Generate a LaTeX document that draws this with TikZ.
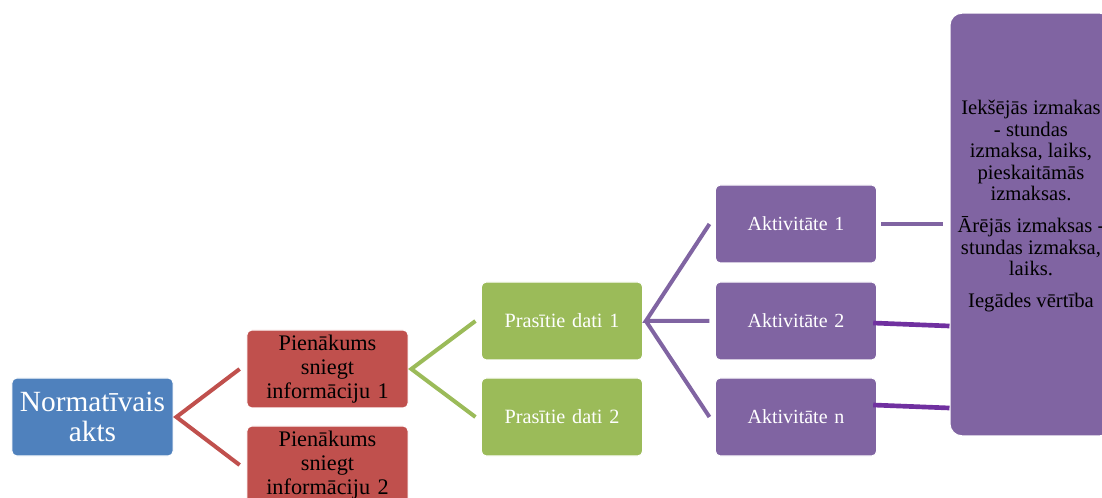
\documentclass[tikz,border=0pt]{standalone}
\usepackage{fontspec}
\setmainfont{Liberation Serif}
\usepackage{tikz}
\usetikzlibrary{calc}

\definecolor{boxblue}{HTML}{4F81BD}
\definecolor{boxred}{HTML}{C0504D}
\definecolor{boxgreen}{HTML}{9BBB59}
\definecolor{boxpurple}{HTML}{8064A2}
\definecolor{linkpurple}{HTML}{7030A0}

\begin{document}
\begin{tikzpicture}[x=0.75pt,y=-0.75pt,
  box/.style={draw=white,line width=0.8pt,rounded corners=3.75pt,
    minimum width=121pt,minimum height=58.5pt,inner sep=2pt,
    align=center,text width=112pt},
  link/.style={line width=3pt}]
  \useasboundingbox (0,0) rectangle (1102,498);
  \clip (0,0) rectangle (1102,498);

  \node[box,fill=boxblue,text=white,font=\fontsize{22}{23}\selectfont]
    (norm) at (92.5,417) {Normatīvais\\akts};
  \node[box,fill=boxred,font=\fontsize{16.7}{18}\selectfont]
    (duty1) at (327.5,369) {Pienākums\\sniegt\\informāciju 1};
  \node[box,fill=boxred,font=\fontsize{16.7}{18}\selectfont]
    (duty2) at (327.5,465) {Pienākums\\sniegt\\informāciju 2};
  \node[box,fill=boxgreen,text=white,font=\fontsize{15.2}{17}\selectfont]
    (data1) at (562,321) {Prasītie dati 1};
  \node[box,fill=boxgreen,text=white,font=\fontsize{15.2}{17}\selectfont]
    (data2) at (562,417) {Prasītie dati 2};
  \node[box,fill=boxpurple,text=white,font=\fontsize{15}{17}\selectfont]
    (act1) at (796,224) {Aktivitāte 1};
  \node[box,fill=boxpurple,text=white,font=\fontsize{15}{17}\selectfont]
    (act2) at (796,321) {Aktivitāte 2};
  \node[box,fill=boxpurple,text=white,font=\fontsize{15}{17}\selectfont]
    (actn) at (796,417) {Aktivitāte n};
  \node[draw=white,line width=0.8pt,rounded corners=9pt,fill=boxpurple,
    minimum width=121.5pt,minimum height=317pt]
    (cost) at (1031,224.5) {};
  \node[align=center,inner sep=0pt,font=\fontsize{15.5}{16.2}\selectfont]
    (costtext) at (1031,206)
    {Iekšējās izmakas\\- stundas\\izmaksa, laiks,\\pieskaitāmās\\izmaksas.\\[7.5pt]
     Ārējās izmaksas -\\stundas izmaksa,\\laiks.\\[7.5pt]Iegādes vērtība};

  \draw[link,boxred] ([xshift=-5pt]duty1.west) -- ([xshift=2pt]norm.east)
    -- ([xshift=-5pt]duty2.west);
  \draw[link,boxgreen] ([xshift=-4pt]data1.west) -- ([xshift=2pt]duty1.east)
    -- ([xshift=-4pt]data2.west);
  \draw[link,boxpurple] ([xshift=-4pt]act1.west) -- ([xshift=2pt]data1.east)
    -- ([xshift=-4pt]act2.west);
  \draw[link,boxpurple] ([xshift=2pt]data1.east) -- ([xshift=-4pt]actn.west);

  \draw[link,boxpurple] ($(act1.east)+(4,0)$) -- ($(act1.east -| cost.west)+(-6,0)$);
  \draw[line width=3.5pt,linkpurple] ($(act2.east)+(-4,2)$) -- ($(act2.east -| cost.west)+(0,5)$);
  \draw[line width=3.5pt,linkpurple] ($(actn.east)+(-4,-12)$) -- ($(actn.east -| cost.west)+(0,-9)$);
\end{tikzpicture}
\end{document}
